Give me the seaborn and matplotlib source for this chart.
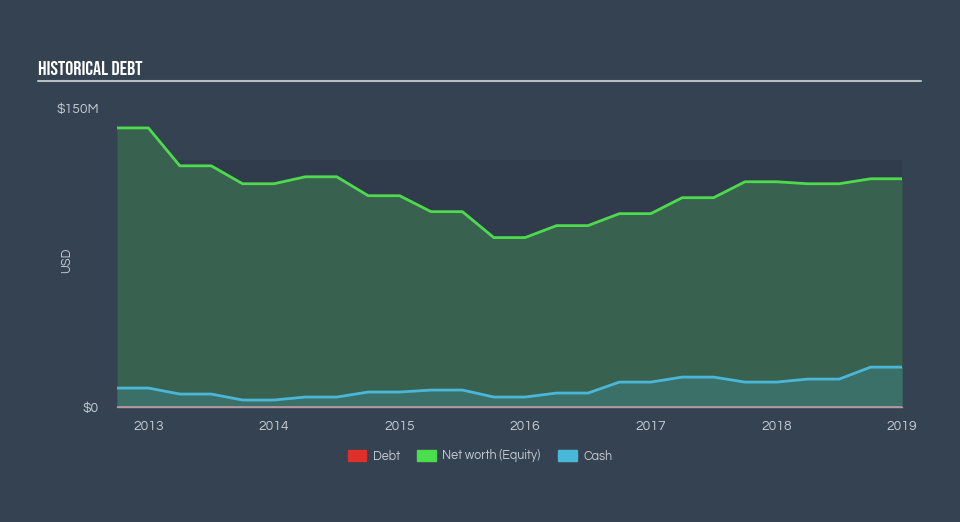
import matplotlib
matplotlib.use("Agg")
import matplotlib.pyplot as plt
import matplotlib.patches as mpatches
import seaborn as sns
import numpy as np
import pandas as pd

# ---- data (values in $M) ----
dates = [2012.75, 2013.0, 2013.25, 2013.5, 2013.75, 2014.0, 2014.25, 2014.5,
         2014.75, 2015.0, 2015.25, 2015.5, 2015.75, 2016.0, 2016.25, 2016.5,
         2016.75, 2017.0, 2017.25, 2017.5, 2017.75, 2018.0, 2018.25, 2018.5,
         2018.75, 2019.0]
net_worth = [140, 140, 121, 121, 112, 112, 115.5, 115.5,
             106, 106, 98, 98, 85, 85, 91, 91,
             97, 97, 105, 105, 113, 113, 112, 112,
             114.5, 114.5]
cash = [9.5, 9.5, 6.5, 6.5, 3.5, 3.5, 5, 5,
        7.5, 7.5, 8.5, 8.5, 5, 5, 7, 7,
        12.5, 12.5, 15, 15, 12.5, 12.5, 14, 14,
        20, 20]
debt = [0] * len(dates)
year_ticks = [2013, 2014, 2015, 2016, 2017, 2018, 2019]
y_ticks = [0, 150]
y_tick_labels = ["$0", "$150M"]

df = pd.DataFrame({"date": dates, "Net worth (Equity)": net_worth,
                   "Cash": cash, "Debt": debt})

BG = "#344252"
BAND = "#303c4c"
TXT = "#c5cad1"
GREEN_LINE = "#4ddb4d"
GREEN_FILL = "#38624f"
CASH_LINE = "#4ab7d8"
CASH_FILL = "#3b7069"
DEBT_C = "#e0302c"

sns.set_theme(style="white")
BODY = ["Questrial", "Mulish", "Muli", "Nunito Sans", "DejaVu Sans"]
TITLE = ["Bebas Neue", "Oswald", "Fjalla One", "DejaVu Sans"]
plt.rcParams['font.family'] = BODY

fig = plt.figure(figsize=(9.6, 5.22), dpi=100, facecolor=BG)
ax = fig.add_axes([117/960, (522-407)/522, (902-117)/960, (407-108)/522])
ax.set_facecolor(BG)

# darker band in the upper part of the plot
ax.axhspan(0, 124, color=BAND, zorder=0, lw=0)

ax.fill_between(df["date"], 0, df["Net worth (Equity)"], color=GREEN_FILL, lw=0, zorder=1)
ax.fill_between(df["date"], 0, df["Cash"], color=CASH_FILL, lw=0, zorder=2)
sns.lineplot(data=df, x="date", y="Net worth (Equity)", color=GREEN_LINE, lw=2, ax=ax, zorder=3)
sns.lineplot(data=df, x="date", y="Cash", color=CASH_LINE, lw=2, ax=ax, zorder=3)
sns.lineplot(data=df, x="date", y="Debt", color="#d98c8a", lw=1.2, ax=ax, zorder=4)

ax.set_xlim(2012.75, 2019.0)
ax.set_ylim(0, 150)
for s in ["top", "right", "left"]:
    ax.spines[s].set_visible(False)
ax.spines["bottom"].set_color("#9aa3ad")
ax.spines["bottom"].set_linewidth(1)

ax.set_xticks(year_ticks)
ax.set_xticklabels([str(y) for y in year_ticks])
ax.set_yticks(y_ticks)
ax.set_yticklabels(y_tick_labels)
ax.tick_params(axis="x", colors="#b5bcc5", length=6, width=1, direction="out", pad=3, labelsize=10)
ax.tick_params(axis="x", labelcolor=TXT)
ax.tick_params(axis="y", length=0, pad=13, labelsize=10, labelcolor=TXT)
ax.set_xlabel("")
ax.set_ylabel("USD", color=TXT, fontsize=9)
ax.yaxis.set_label_coords(-0.056, 0.49)

# title and rule
fig.text(38/960, 1 - 68/522, "HISTORICAL DEBT", color="white", fontsize=14.5,
         va="center", ha="left", family=TITLE)
fig.add_artist(plt.Line2D([38/960, 921/960], [1 - 81/522, 1 - 81/522],
                          color="#b9bec5", lw=1.5, transform=fig.transFigure))

handles = [mpatches.Patch(color=DEBT_C, label="Debt"),
           mpatches.Patch(color="#4cdd4c", label="Net worth (Equity)"),
           mpatches.Patch(color=CASH_LINE, label="Cash")]
leg = fig.legend(handles=handles, loc="center", bbox_to_anchor=(480/960, 1 - 456/522),
                 ncol=3, frameon=False, fontsize=9, handlelength=1.5, handleheight=1.0,
                 columnspacing=1.4, handletextpad=0.5)
for t in leg.get_texts():
    t.set_color(TXT)

fig.savefig("out.png", dpi=100, facecolor=BG)
